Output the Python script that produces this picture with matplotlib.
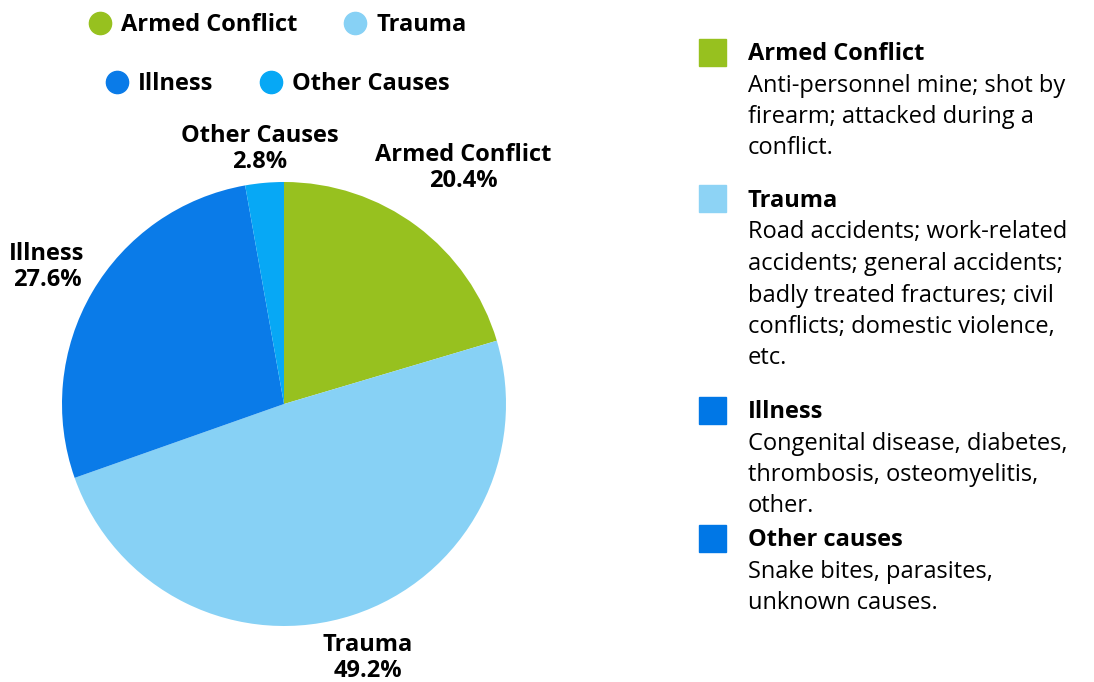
import matplotlib.pyplot as plt
from matplotlib.lines import Line2D
from matplotlib.patches import Rectangle

W, H = 1094, 682

categories = ["Armed Conflict", "Trauma", "Illness", "Other Causes"]
shares = [20.4, 49.2, 27.6, 2.8]
colors = ["#97c11f", "#87d1f5", "#0a7be8", "#07a8f5"]

key_titles = ["Armed Conflict", "Trauma", "Illness", "Other causes"]
key_colors = ["#97c11f", "#8dd3f5", "#0077e6", "#0077e6"]
key_texts = [
    ["Anti-personnel mine; shot by", "firearm; attacked during a", "conflict."],
    ["Road accidents; work-related", "accidents; general accidents;",
     "badly treated fractures; civil", "conflicts; domestic violence,", "etc."],
    ["Congenital disease, diabetes,", "thrombosis, osteomyelitis,", "other."],
    ["Snake bites, parasites,", "unknown causes."],
]

plt.rcParams["font.family"] = ["Open Sans", "DejaVu Sans"]
FS = 17


def fx(x):
    return x / W


def fy(y):
    return 1 - y / H


fig = plt.figure(figsize=(W / 100, H / 100), dpi=100)

# pie in a square box, center (284, 404), radius 222 px
ax = fig.add_axes([fx(62), fy(626), 444 / W, 444 / H])
wedges, _ = ax.pie(shares, colors=colors, startangle=90, counterclock=False,
                   radius=1, wedgeprops=dict(linewidth=0))
ax.set_xlim(-1, 1)
ax.set_ylim(-1, 1)
ax.set_aspect("equal")
ax.axis("off")

# slice labels
label_pos = [(463, 168), (368, 658), (47, 267), (260, 149)]
for name, val, (x, y) in zip(categories, shares, label_pos):
    fig.text(fx(x), fy(y), f"{name}\n{val}%", ha="center", va="center",
             fontsize=FS, fontweight="bold", linespacing=1.15)

# top legend, two rows
handles = [Line2D([], [], marker="o", linestyle="none", markersize=16,
                  markerfacecolor=c, markeredgecolor=c) for c in colors]
for row, yy in [(0, 25), (1, 84)]:
    sl = slice(row * 2, row * 2 + 2)
    fig.legend(handles[sl], categories[sl], loc="center",
               bbox_to_anchor=(fx(278), fy(yy)), ncol=2, frameon=False,
               prop=dict(size=FS, weight="bold"), handlelength=0.9,
               handletextpad=0.45, columnspacing=2.0)

# right-hand key
tops = [52, 199, 410, 538]
step = 31.5
for title, col, lines, ty in zip(key_titles, key_colors, key_texts, tops):
    fig.patches.append(Rectangle((fx(699), fy(ty + 13.5)), 27 / W, 27 / H,
                                 transform=fig.transFigure, color=col))
    fig.text(fx(748), fy(ty + 2), title, ha="left", va="center",
             fontsize=FS, fontweight="bold")
    for i, line in enumerate(lines):
        fig.text(fx(748), fy(ty + 2 + step * (i + 1)), line, ha="left",
                 va="center", fontsize=FS)

fig.savefig("out.png", dpi=100)
